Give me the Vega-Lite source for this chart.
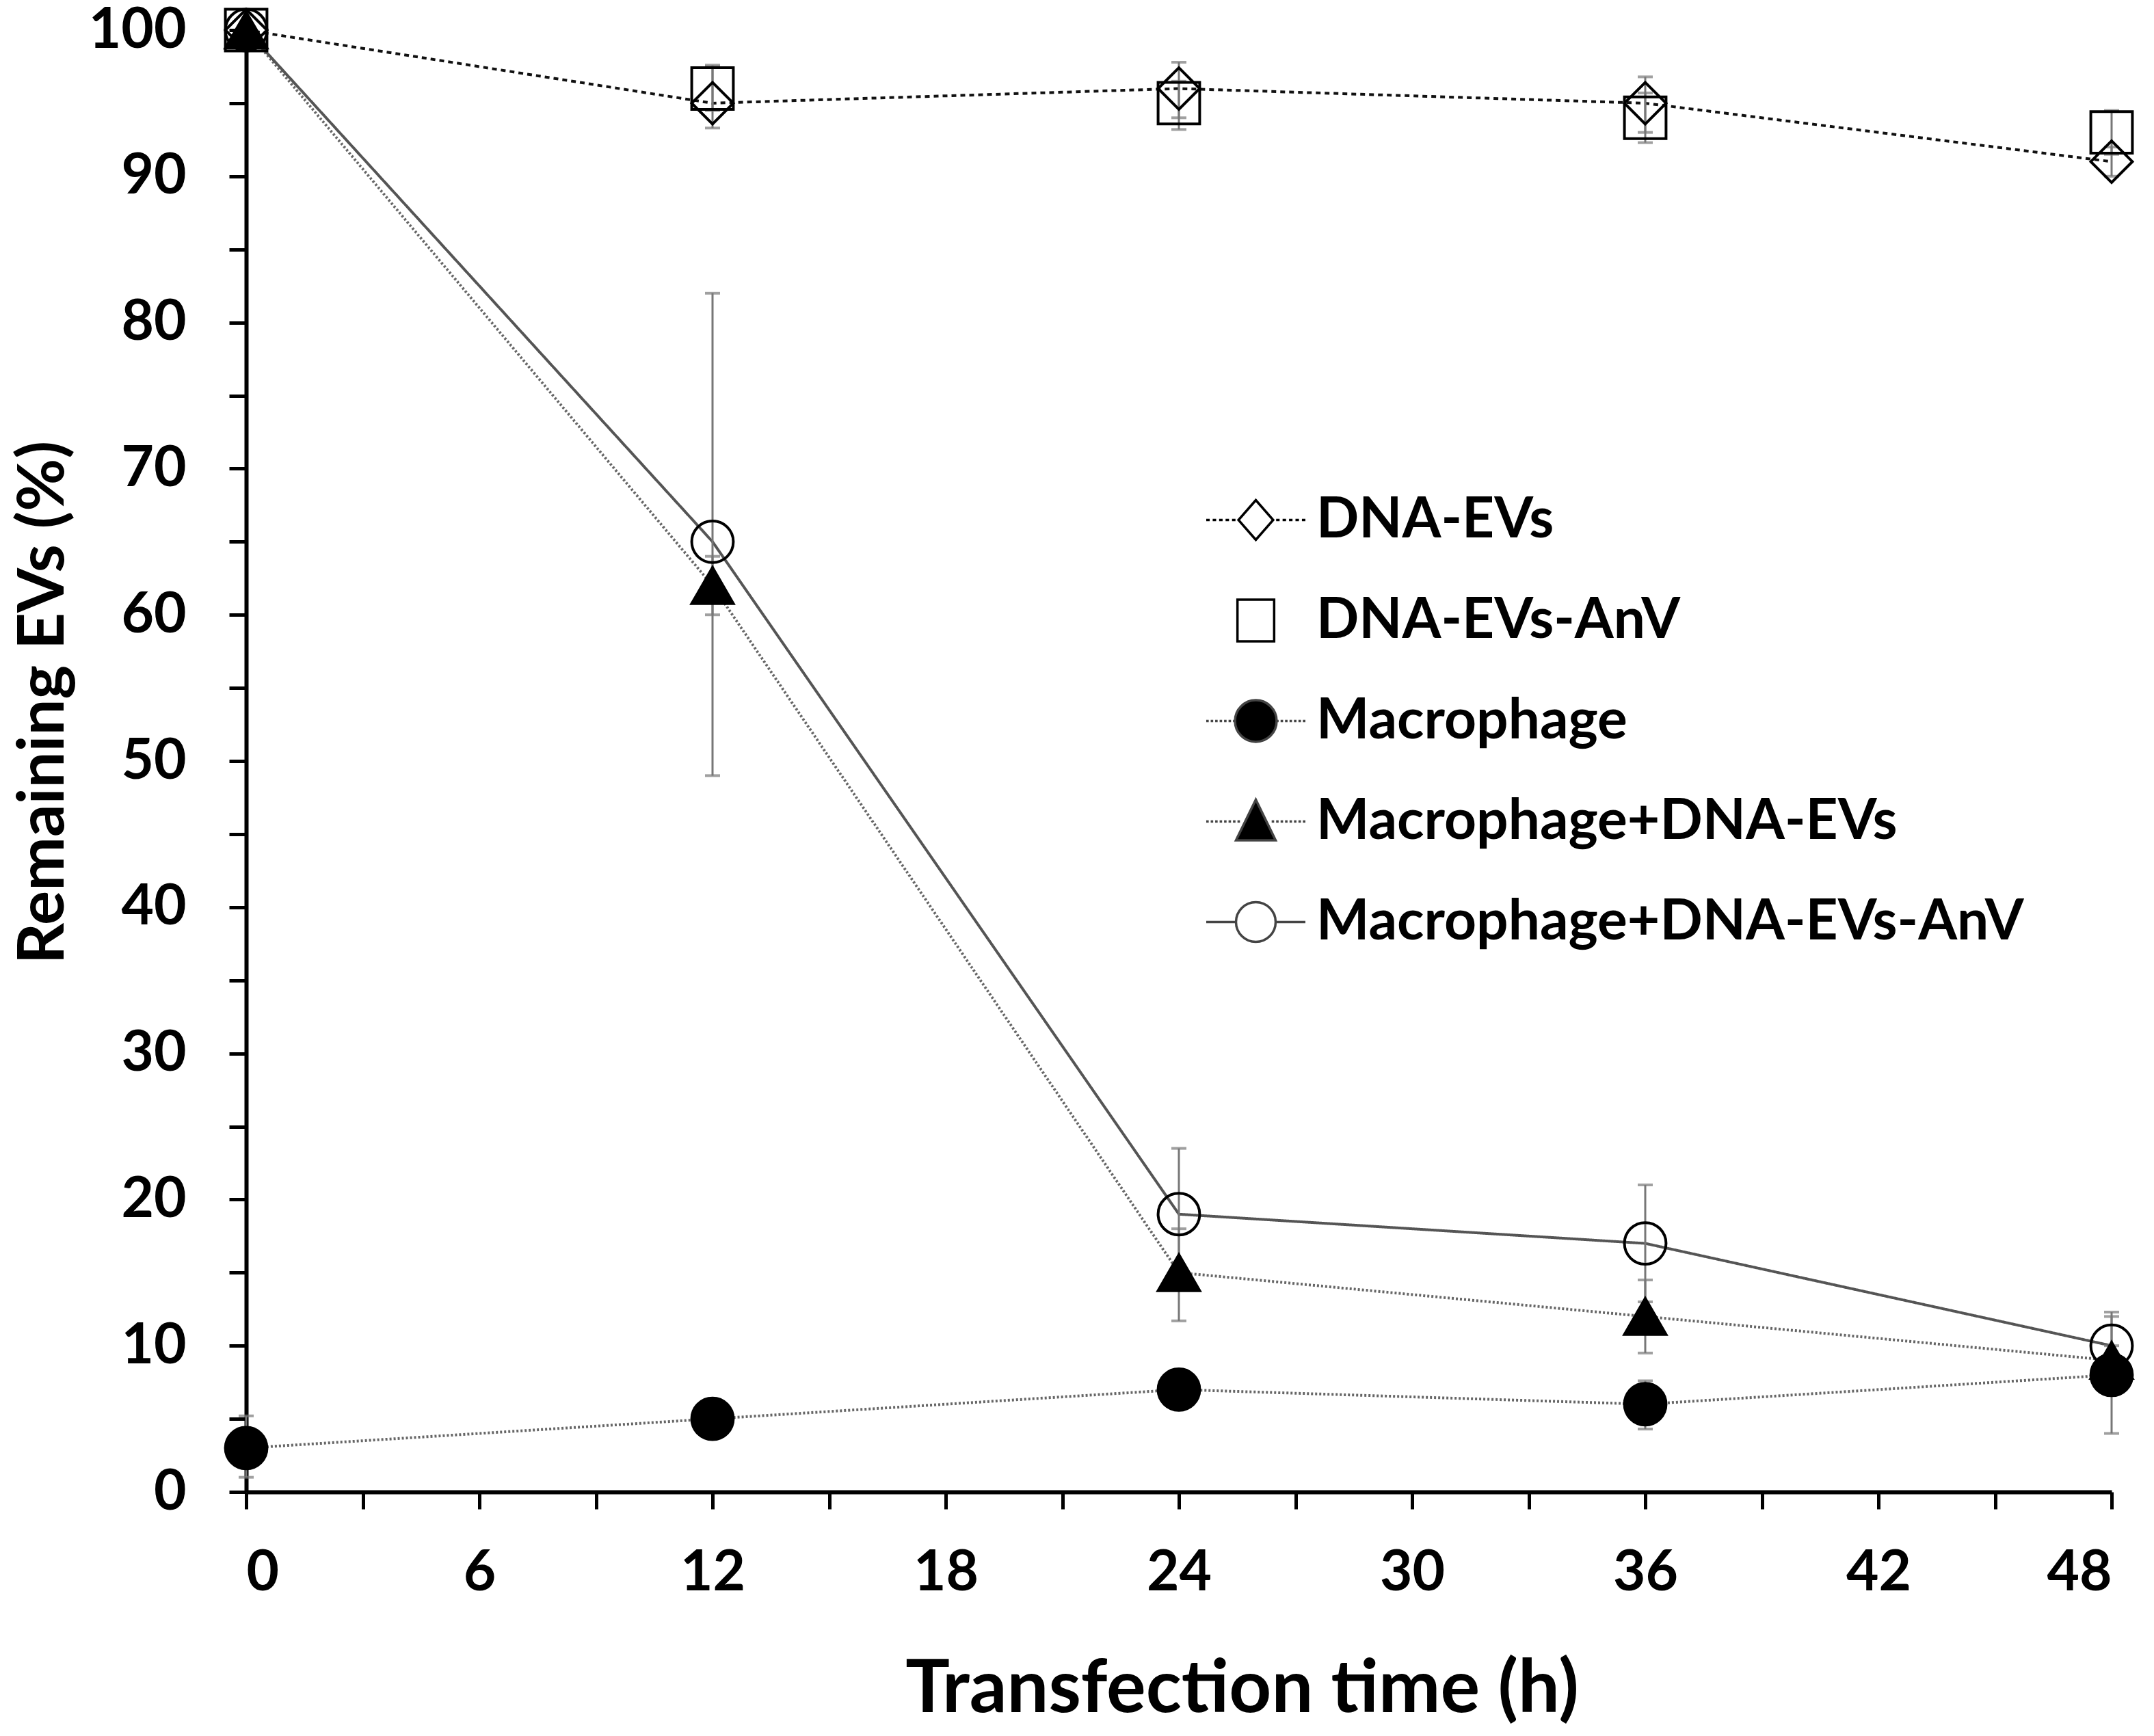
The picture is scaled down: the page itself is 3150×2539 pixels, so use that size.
{
  "$schema": "https://vega.github.io/schema/vega-lite/v6.json",
  "description": "Remaining EVs over transfection time, five groups with error bars.",
  "autosize": {"type": "none"},
  "padding": {"left": 360, "top": 44, "right": 62, "bottom": 357},
  "width": 2728,
  "height": 2138,
  "background": "white",
  "data": {
    "values": [
      {"series": "DNA-EVs", "t": 0, "v": 100},
      {"series": "DNA-EVs", "t": 12, "v": 95, "lo": 93.3, "hi": 97.6},
      {"series": "DNA-EVs", "t": 24, "v": 96, "lo": 94, "hi": 97.8},
      {"series": "DNA-EVs", "t": 36, "v": 95, "lo": 93, "hi": 96.8},
      {"series": "DNA-EVs", "t": 48, "v": 91, "lo": 90, "hi": 92},
      {"series": "DNA-EVs-AnV", "t": 0, "v": 100},
      {"series": "DNA-EVs-AnV", "t": 12, "v": 96, "lo": 94.5, "hi": 97.5},
      {"series": "DNA-EVs-AnV", "t": 24, "v": 95, "lo": 93.2, "hi": 96.5},
      {"series": "DNA-EVs-AnV", "t": 36, "v": 94, "lo": 92.3, "hi": 95.7},
      {"series": "DNA-EVs-AnV", "t": 48, "v": 93, "lo": 91.5, "hi": 94.5},
      {"series": "Macrophage", "t": 0, "v": 3, "lo": 1, "hi": 5.2},
      {"series": "Macrophage", "t": 12, "v": 5, "lo": 4, "hi": 6},
      {"series": "Macrophage", "t": 24, "v": 7, "lo": 6, "hi": 8},
      {"series": "Macrophage", "t": 36, "v": 6, "lo": 4.3, "hi": 7.6},
      {"series": "Macrophage", "t": 48, "v": 8, "lo": 4, "hi": 12},
      {"series": "Macrophage+DNA-EVs", "t": 0, "v": 100},
      {"series": "Macrophage+DNA-EVs", "t": 12, "v": 62, "lo": 60, "hi": 64},
      {"series": "Macrophage+DNA-EVs", "t": 24, "v": 15, "lo": 11.7, "hi": 18},
      {"series": "Macrophage+DNA-EVs", "t": 36, "v": 12, "lo": 9.5, "hi": 14.5},
      {"series": "Macrophage+DNA-EVs", "t": 48, "v": 9, "lo": 8, "hi": 10},
      {"series": "Macrophage+DNA-EVs-AnV", "t": 0, "v": 100},
      {"series": "Macrophage+DNA-EVs-AnV", "t": 12, "v": 65, "lo": 49, "hi": 82},
      {"series": "Macrophage+DNA-EVs-AnV", "t": 24, "v": 19, "lo": 14.5, "hi": 23.5},
      {"series": "Macrophage+DNA-EVs-AnV", "t": 36, "v": 17, "lo": 13, "hi": 21},
      {"series": "Macrophage+DNA-EVs-AnV", "t": 48, "v": 10, "lo": 7.8, "hi": 12.3}
    ]
  },
  "encoding": {
    "x": {
      "field": "t",
      "type": "quantitative",
      "scale": {"domain": [0, 48], "nice": false},
      "axis": {
        "title": "Transfection time (h)",
        "values": [0, 3, 6, 9, 12, 15, 18, 21, 24, 27, 30, 33, 36, 39, 42, 45, 48],
        "labelExpr": "datum.value % 6 === 0 ? datum.label : ''",
        "labelPadding": 118,
        "labelBaseline": "alphabetic",
        "titleFontSize": 108,
        "titleX": 1456,
        "titleY": 321,
        "titleBaseline": "alphabetic"
      }
    },
    "y": {
      "field": "v",
      "type": "quantitative",
      "scale": {"domain": [0, 100], "nice": false},
      "axis": {
        "title": "Remaining EVs (%)",
        "values": [0, 5, 10, 15, 20, 25, 30, 35, 40, 45, 50, 55, 60, 65, 70, 75, 80, 85, 90, 95, 100],
        "labelExpr": "datum.value % 10 === 0 ? datum.label : ''",
        "labelPadding": 63,
        "labelBaseline": "middle",
        "titleFontSize": 94,
        "titleAngle": 270,
        "titleX": -268,
        "titleY": 983,
        "titleBaseline": "alphabetic",
        "titleAlign": "center"
      }
    }
  },
  "layer": [
    {
      "transform": [{"filter": "datum.series !== 'DNA-EVs-AnV'"}],
      "mark": {"type": "line", "strokeWidth": 4},
      "encoding": {
        "stroke": {
          "field": "series",
          "type": "nominal",
          "scale": {
            "domain": ["DNA-EVs", "Macrophage", "Macrophage+DNA-EVs", "Macrophage+DNA-EVs-AnV"],
            "range": ["#111111", "#666666", "#666666", "#555555"]
          },
          "legend": null
        },
        "strokeDash": {
          "field": "series",
          "type": "nominal",
          "scale": {
            "domain": ["DNA-EVs", "Macrophage", "Macrophage+DNA-EVs", "Macrophage+DNA-EVs-AnV"],
            "range": [[7, 6], [3, 3], [3, 3], [1, 0]]
          },
          "legend": null
        }
      }
    },
    {
      "transform": [{"filter": "isValid(datum.lo)"}],
      "mark": {"type": "rule", "color": "#777777", "strokeWidth": 3},
      "encoding": {
        "y": {"field": "lo", "type": "quantitative"},
        "y2": {"field": "hi"}
      }
    },
    {
      "transform": [{"filter": "isValid(datum.lo)"}],
      "mark": {"type": "tick", "orient": "horizontal", "color": "#777777", "size": 22, "thickness": 4},
      "encoding": {
        "y": {"field": "lo", "type": "quantitative"}
      }
    },
    {
      "transform": [{"filter": "isValid(datum.hi)"}],
      "mark": {"type": "tick", "orient": "horizontal", "color": "#777777", "size": 22, "thickness": 4},
      "encoding": {
        "y": {"field": "hi", "type": "quantitative"}
      }
    },
    {
      "mark": {"type": "point", "filled": true, "size": 3700, "stroke": "black", "strokeWidth": 4, "opacity": 1},
      "encoding": {
        "shape": {
          "field": "series",
          "type": "nominal",
          "scale": {
            "domain": ["DNA-EVs", "DNA-EVs-AnV", "Macrophage", "Macrophage+DNA-EVs", "Macrophage+DNA-EVs-AnV"],
            "range": ["diamond", "square", "circle", "triangle-up", "circle"]
          },
          "legend": null
        },
        "fill": {
          "field": "series",
          "type": "nominal",
          "scale": {
            "domain": ["DNA-EVs", "DNA-EVs-AnV", "Macrophage", "Macrophage+DNA-EVs", "Macrophage+DNA-EVs-AnV"],
            "range": ["transparent", "transparent", "black", "black", "transparent"]
          },
          "legend": null
        }
      }
    },
    {
      "transform": [{"filter": "false"}],
      "mark": {"type": "point", "filled": true, "strokeWidth": 3.5, "opacity": 1},
      "encoding": {
        "shape": {
          "field": "series",
          "type": "nominal",
          "scale": {
            "domain": ["DNA-EVs", "DNA-EVs-AnV", "Macrophage", "Macrophage+DNA-EVs", "Macrophage+DNA-EVs-AnV"],
            "range": [
              "M0,-0.9M0,0.9M-1,0L-0.93,0M-0.87,0L-0.8,0M-0.74,0L-0.67,0M-0.61,0L-0.54,0M-0.48,0L-0.41,0M0.41,0L0.48,0M0.54,0L0.61,0M0.67,0L0.74,0M0.8,0L0.87,0M0.93,0L1,0M0,-0.4L0.35,0L0,0.4L-0.35,0Z",
              "M0,-0.9M0,0.9M-1,0M1,0M-0.37,-0.42L0.37,-0.42L0.37,0.42L-0.37,0.42Z",
              "M0,-0.9M0,0.9M-1,0L-0.95,0M-0.91,0L-0.86,0M-0.82,0L-0.77,0M-0.73,0L-0.68,0M-0.64,0L-0.59,0M-0.55,0L-0.5,0M-0.46,0L-0.42,0M0.42,0L0.46,0M0.5,0L0.55,0M0.59,0L0.64,0M0.68,0L0.73,0M0.77,0L0.82,0M0.86,0L0.91,0M0.95,0L1,0M-0.42,0A0.42,0.42 0 1,1 0.42,0A0.42,0.42 0 1,1 -0.42,0Z",
              "M0,-0.9M0,0.9M-1,0L-0.95,0M-0.91,0L-0.86,0M-0.82,0L-0.77,0M-0.73,0L-0.68,0M-0.64,0L-0.59,0M-0.55,0L-0.5,0M-0.46,0L-0.41,0M-0.37,0L-0.32,0M0.32,0L0.37,0M0.41,0L0.46,0M0.5,0L0.55,0M0.59,0L0.64,0M0.68,0L0.73,0M0.77,0L0.82,0M0.86,0L0.91,0M0.95,0L1,0M0,-0.44L0.4,0.38L-0.4,0.38Z",
              "M0,-0.9M0,0.9M-1,0L-0.4,0M0.4,0L1,0M-0.4,0A0.4,0.4 0 1,1 0.4,0A0.4,0.4 0 1,1 -0.4,0Z"
            ]
          },
          "legend": {
            "orient": "none",
            "legendX": 1402,
            "legendY": 642,
            "title": null,
            "padding": 0,
            "rowPadding": -15,
            "symbolSize": 21025,
            "symbolStrokeWidth": 3.5,
            "symbolOpacity": 1,
            "labelOffset": 14,
            "labelFontSize": 82,
            "labelFont": "Lato",
            "labelFontWeight": "bold",
            "labelColor": "black",
            "labelLimit": 0,
            "labelBaseline": "middle"
          }
        },
        "fill": {
          "field": "series",
          "type": "nominal",
          "scale": {
            "domain": ["DNA-EVs", "DNA-EVs-AnV", "Macrophage", "Macrophage+DNA-EVs", "Macrophage+DNA-EVs-AnV"],
            "range": ["white", "white", "black", "black", "white"]
          },
          "legend": {
            "orient": "none",
            "legendX": 1402,
            "legendY": 642,
            "title": null,
            "padding": 0,
            "rowPadding": -15,
            "symbolSize": 21025,
            "symbolStrokeWidth": 3.5,
            "symbolOpacity": 1,
            "labelOffset": 14,
            "labelFontSize": 82,
            "labelFont": "Lato",
            "labelFontWeight": "bold",
            "labelColor": "black",
            "labelLimit": 0,
            "labelBaseline": "middle"
          }
        },
        "stroke": {
          "field": "series",
          "type": "nominal",
          "scale": {
            "domain": ["DNA-EVs", "DNA-EVs-AnV", "Macrophage", "Macrophage+DNA-EVs", "Macrophage+DNA-EVs-AnV"],
            "range": ["black", "black", "#444444", "#444444", "#444444"]
          },
          "legend": {
            "orient": "none",
            "legendX": 1402,
            "legendY": 642,
            "title": null,
            "padding": 0,
            "rowPadding": -15,
            "symbolSize": 21025,
            "symbolStrokeWidth": 3.5,
            "symbolOpacity": 1,
            "labelOffset": 14,
            "labelFontSize": 82,
            "labelFont": "Lato",
            "labelFontWeight": "bold",
            "labelColor": "black",
            "labelLimit": 0,
            "labelBaseline": "middle"
          }
        }
      }
    }
  ],
  "resolve": {"scale": {"shape": "independent", "fill": "independent", "stroke": "independent"}},
  "config": {
    "font": "Lato",
    "view": {"stroke": null},
    "axis": {
      "grid": false,
      "domainColor": "black",
      "domainWidth": 6,
      "tickColor": "black",
      "tickWidth": 5,
      "tickSize": 25,
      "labelFont": "Lato",
      "labelFontWeight": "bold",
      "labelFontSize": 82,
      "labelColor": "black",
      "labelOverlap": false,
      "titleFont": "Lato",
      "titleFontWeight": "bold",
      "titleColor": "black"
    }
  }
}
